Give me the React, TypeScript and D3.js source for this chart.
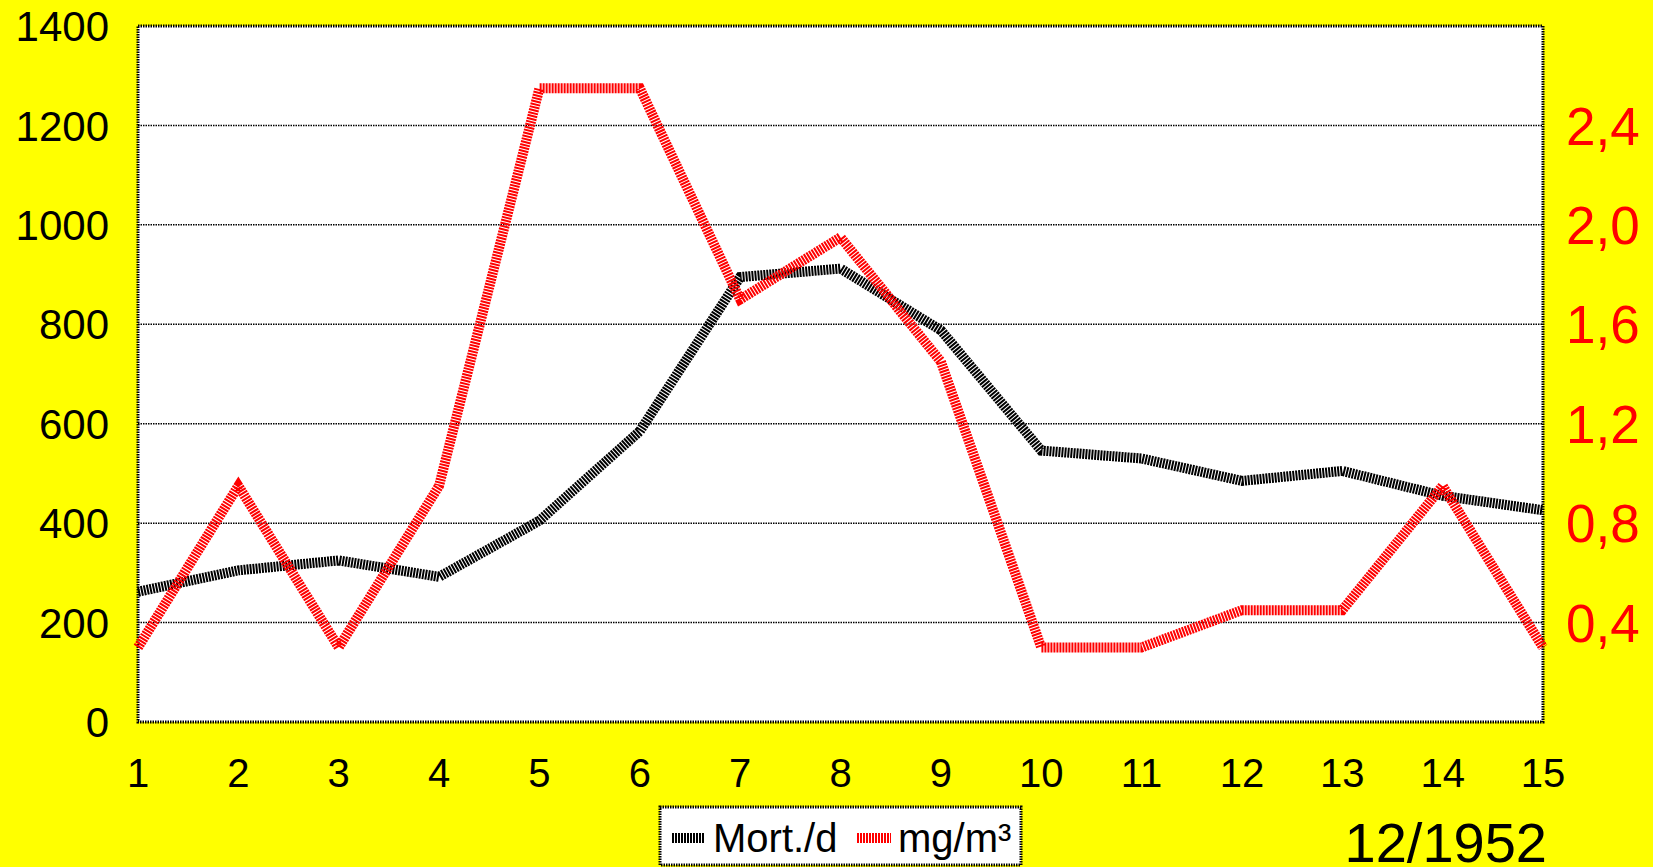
import React from "react";
import * as d3 from "d3";

// Daily deaths and smoke concentration, London, December 1952
const days = [1, 2, 3, 4, 5, 6, 7, 8, 9, 10, 11, 12, 13, 14, 15];
const mortality = [262, 305, 325, 292, 405, 585, 895, 912, 788, 546, 530, 485, 505, 455, 426];
const smoke = [0.3, 0.95, 0.3, 0.95, 2.55, 2.55, 1.7, 1.95, 1.45, 0.3, 0.3, 0.45, 0.45, 0.95, 0.3];
const leftTicks = [0, 200, 400, 600, 800, 1000, 1200, 1400];
const rightTicks = [0.4, 0.8, 1.2, 1.6, 2.0, 2.4];
const seriesNames = ["Mort./d", "mg/m³"];
const periodLabel = "12/1952";

const W = 1653;
const H = 867;
const plot = { left: 138, right: 1543, top: 26, bottom: 722 };
const FONT = "'Liberation Sans', Arial, sans-serif";

export default function App() {
  const x = d3.scaleLinear().domain([1, 15]).range([plot.left, plot.right]);
  const yL = d3.scaleLinear().domain([0, 1400]).range([plot.bottom, plot.top]);
  const yR = d3.scaleLinear().domain([0, 2.8]).range([plot.bottom, plot.top]);

  const lineL = d3
    .line<number>()
    .x((_, i) => x(days[i]))
    .y((d) => yL(d));
  const lineR = d3
    .line<number>()
    .x((_, i) => x(days[i]))
    .y((d) => yR(d));

  const fmtR = (v: number) => v.toFixed(1).replace(".", ",");
  const stripe = "2 1";

  return (
    <svg
      width={W}
      height={H}
      style={{ position: "absolute", left: 0, top: 0, display: "block" }}
      fontFamily={FONT}
    >
      <rect x={0} y={0} width={W} height={H} fill="#ffff00" />
      <rect
        x={plot.left}
        y={plot.top}
        width={plot.right - plot.left}
        height={plot.bottom - plot.top}
        fill="#ffffff"
      />
      {/* horizontal gridlines */}
      {leftTicks
        .filter((t) => t > 0 && t < 1400)
        .map((t) => (
          <line
            key={"g" + t}
            x1={plot.left}
            x2={plot.right}
            y1={yL(t)}
            y2={yL(t)}
            stroke="#000"
            strokeWidth={1.5}
            strokeDasharray="1.5 1"
          />
        ))}
      {/* plot frame */}
      <rect
        x={plot.left}
        y={plot.top}
        width={plot.right - plot.left}
        height={plot.bottom - plot.top}
        fill="none"
        stroke="#000"
        strokeWidth={3}
        strokeDasharray="1.5 1"
      />
      {/* series */}
      <path
        d={lineL(mortality) || ""}
        fill="none"
        stroke="#000"
        strokeWidth={10}
        strokeDasharray={stripe}
        strokeLinejoin="miter"
      />
      <path
        d={lineR(smoke) || ""}
        fill="none"
        stroke="#ff0000"
        strokeWidth={10}
        strokeDasharray={stripe}
        strokeLinejoin="miter"
      />
      {/* left axis labels */}
      {leftTicks.map((t) => (
        <text
          key={"l" + t}
          x={109}
          y={yL(t)}
          dy="0.36em"
          textAnchor="end"
          fontSize={42}
          fill="#000"
        >
          {t}
        </text>
      ))}
      {/* right axis labels */}
      {rightTicks.map((t) => (
        <text
          key={"r" + t}
          x={1566}
          y={yR(t)}
          dy="0.36em"
          textAnchor="start"
          fontSize={53}
          fill="#ff0000"
        >
          {fmtR(t)}
        </text>
      ))}
      {/* bottom axis labels */}
      {days.map((d) => (
        <text
          key={"x" + d}
          x={x(d)}
          y={787}
          textAnchor="middle"
          fontSize={40}
          fill="#000"
        >
          {d}
        </text>
      ))}
      {/* legend */}
      <rect
        x={660}
        y={807}
        width={361}
        height={58}
        fill="#ffffff"
        stroke="#000"
        strokeWidth={3}
        strokeDasharray="1.5 1"
      />
      <line x1={672} x2={705} y1={838} y2={838} stroke="#000" strokeWidth={10} strokeDasharray={stripe} />
      <text x={713} y={852} fontSize={40} fill="#000">
        {seriesNames[0]}
      </text>
      <line x1={857} x2={891} y1={838} y2={838} stroke="#ff0000" strokeWidth={10} strokeDasharray={stripe} />
      <text x={898} y={852} fontSize={40} fill="#000">
        {seriesNames[1]}
      </text>
      {/* period */}
      <text x={1547} y={862} textAnchor="end" fontSize={56} fill="#000">
        {periodLabel}
      </text>
    </svg>
  );
}
